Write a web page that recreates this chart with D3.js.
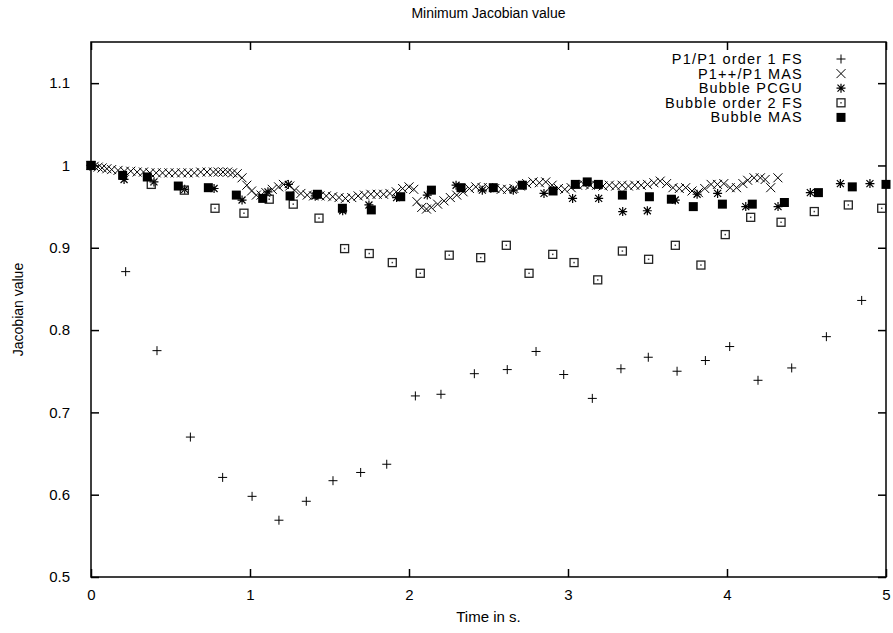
<!DOCTYPE html>
<html>
<head>
<meta charset="utf-8">
<script src="https://cdn.jsdelivr.net/npm/d3@7"></script>
<style>
body { margin: 0; background: #fff; }
text { font-family: "Liberation Sans", Arial, sans-serif; fill: #000; }
</style>
</head>
<body>
<div id="chart"></div>
<script>
// Daten

var xTicks = [0, 1, 2, 3, 4, 5];
var yTicks = [0.5, 0.6, 0.7, 0.8, 0.9, 1.0, 1.1];
var names = ["P1/P1 order 1 FS", "P1++/P1 MAS", "Bubble PCGU", "Bubble order 2 FS", "Bubble MAS"];

var p1fs = [[0,1.0],[0.218,0.871],[0.415,0.775],[0.625,0.670],[0.828,0.621],[1.013,0.598],[1.182,0.569],
    [1.354,0.592],[1.522,0.617],[1.696,0.627],[1.86,0.637],[2.04,0.720],[2.201,0.722],[2.411,0.747],
    [2.618,0.752],[2.799,0.774],[2.973,0.746],[3.153,0.717],[3.333,0.753],[3.505,0.767],[3.686,0.750],
    [3.864,0.763],[4.017,0.780],[4.195,0.739],[4.407,0.754],[4.625,0.792],[4.847,0.836]];

var p1mas = [[0,1.0],[0.02,0.999],[0.045,0.998],[0.07,0.997],[0.10,0.996],[0.13,0.995],[0.17,0.994],
    [0.21,0.993],[0.25,0.993],[0.29,0.992],[0.33,0.992],[0.37,0.991],[0.41,0.991],[0.45,0.991],[0.49,0.991],
    [0.53,0.991],[0.57,0.991],[0.61,0.991],[0.65,0.991],[0.69,0.992],[0.73,0.992],[0.77,0.992],[0.80,0.992],
    [0.83,0.992],[0.86,0.992],[0.89,0.991],[0.92,0.990],[0.95,0.985],[0.98,0.976],[1.01,0.969],[1.04,0.964],
    [1.07,0.964],[1.10,0.967],[1.14,0.971],[1.18,0.974],[1.21,0.977],[1.25,0.975],[1.28,0.970],[1.32,0.966],
    [1.36,0.964],[1.40,0.963],[1.44,0.963],[1.48,0.963],[1.52,0.962],[1.56,0.961],[1.60,0.960],[1.64,0.961],
    [1.68,0.963],[1.72,0.964],[1.76,0.965],[1.80,0.965],[1.84,0.965],[1.88,0.966],[1.92,0.968],[1.96,0.972],
    [2.00,0.974],[2.03,0.971],[2.05,0.956],[2.08,0.949],[2.11,0.947],[2.14,0.949],[2.18,0.953],[2.22,0.957],
    [2.26,0.961],[2.30,0.964],[2.34,0.968],[2.38,0.972],[2.42,0.974],[2.46,0.973],[2.50,0.973],[2.54,0.972],
    [2.58,0.971],[2.62,0.971],[2.66,0.972],[2.70,0.975],[2.74,0.978],[2.78,0.980],[2.82,0.979],[2.86,0.980],
    [2.90,0.976],[2.94,0.972],[2.98,0.971],[3.02,0.973],[3.06,0.976],[3.10,0.977],[3.14,0.976],[3.18,0.976],
    [3.22,0.975],[3.26,0.976],[3.30,0.975],[3.34,0.976],[3.38,0.975],[3.42,0.976],[3.46,0.976],[3.50,0.977],
    [3.54,0.979],[3.58,0.981],[3.62,0.978],[3.66,0.973],[3.70,0.972],[3.74,0.973],[3.78,0.969],[3.82,0.967],
    [3.86,0.972],[3.90,0.977],[3.94,0.977],[3.98,0.978],[4.02,0.973],[4.06,0.973],[4.10,0.978],[4.13,0.982],
    [4.17,0.985],[4.21,0.985],[4.24,0.983],[4.275,0.973],[4.32,0.985]];

var pcgu = [[0,1.0],[0.208,0.983],[0.396,0.980],[0.589,0.971],[0.774,0.972],[0.950,0.958],[1.113,0.968],
    [1.241,0.977],[1.41,0.963],[1.583,0.945],[1.748,0.952],[1.922,0.961],[2.115,0.964],[2.296,0.976],
    [2.461,0.970],[2.656,0.970],[2.849,0.966],[3.029,0.960],[3.193,0.960],[3.344,0.944],[3.499,0.945],
    [3.675,0.958],[3.812,0.965],[3.941,0.966],[4.118,0.950],[4.321,0.950],[4.524,0.967],[4.713,0.978],
    [4.899,0.978]];

var bubbleFs = [[0,1.0],[0.379,0.977],[0.587,0.970],[0.780,0.948],[0.962,0.942],[1.121,0.959],[1.272,0.953],
    [1.434,0.936],[1.595,0.899],[1.750,0.893],[1.895,0.882],[2.071,0.869],[2.253,0.891],[2.451,0.888],
    [2.612,0.903],[2.755,0.869],[2.904,0.892],[3.038,0.882],[3.187,0.861],[3.342,0.896],[3.507,0.886],
    [3.675,0.903],[3.836,0.879],[3.989,0.916],[4.149,0.937],[4.340,0.931],[4.549,0.944],[4.763,0.952],
    [4.973,0.948]];

var bubbleMas = [[0,1.0],[0.199,0.988],[0.354,0.986],[0.549,0.975],[0.738,0.973],[0.914,0.964],[1.080,0.960],
    [1.252,0.963],[1.424,0.965],[1.581,0.948],[1.763,0.946],[1.948,0.962],[2.141,0.970],[2.327,0.973],
    [2.530,0.973],[2.713,0.976],[2.906,0.969],[3.046,0.977],[3.121,0.980],[3.191,0.977],[3.342,0.964],
    [3.512,0.962],[3.650,0.959],[3.788,0.950],[3.971,0.953],[4.159,0.953],[4.361,0.955],[4.575,0.967],
    [4.788,0.974],[5.0,0.977]];

var series = [p1fs, p1mas, pcgu, bubbleFs, bubbleMas];

// Flaeche

var margin = {top: 42, right: 7, bottom: 56, left: 91};
var width = 893;
var height = 633;
var w = width - margin.left - margin.right;
var h = height - margin.top - margin.bottom;

var x = d3.scaleLinear().domain([0, 5]).range([0, w]);
var y = d3.scaleLinear().domain([0.5, 1.15]).range([h, 0]);

var svg = d3.select("#chart").append("svg")
    .attr("width", width)
    .attr("height", height);

var g = svg.append("g")
    .attr("transform", "translate(" + margin.left + "," + margin.top + ")");

var yFmt = function(d) { return String(+d.toFixed(1)); };

function styleAxis(sel) {
    sel.select(".domain").remove();
    sel.selectAll("line").attr("stroke", "#000").attr("stroke-width", 1.5);
    sel.selectAll("text").style("font-size", "15px").attr("fill", "#000");
}

g.append("g") // X - Achse
    .attr("transform", "translate(0," + h + ")")
    .call(d3.axisBottom(x).tickValues(xTicks).tickSize(-8).tickPadding(12).tickFormat(d3.format("d")))
    .call(styleAxis);

g.append("g") // oben
    .call(d3.axisTop(x).tickValues(xTicks).tickSize(-8).tickFormat(""))
    .call(styleAxis);

g.append("g") // Y - Achse
    .call(d3.axisLeft(y).tickValues(yTicks).tickSize(-8).tickPadding(21).tickFormat(yFmt))
    .call(styleAxis);

g.append("g") // rechts
    .attr("transform", "translate(" + w + ",0)")
    .call(d3.axisRight(y).tickValues(yTicks).tickSize(-8).tickFormat(""))
    .call(styleAxis);

g.append("rect") // Rahmen
    .attr("width", w)
    .attr("height", h)
    .attr("fill", "none")
    .attr("stroke", "#000")
    .attr("stroke-width", 1.5);

// Symbole

function mark(sel, type) {
    var s = 4.5;
    if (type == 0) {
        sel.append("path").attr("d", "M" + -s + ",0H" + s + "M0," + -s + "V" + s)
            .attr("stroke", "#000").attr("fill", "none");
    } else if (type == 1) {
        sel.append("path").attr("d", "M" + -s + "," + -s + "L" + s + "," + s + "M" + -s + "," + s + "L" + s + "," + -s)
            .attr("stroke", "#000").attr("fill", "none");
    } else if (type == 2) {
        var a = 3.5;
        sel.append("path").attr("d", "M" + -s + ",0H" + s + "M0," + -s + "V" + s +
                "M" + -a + "," + -a + "L" + a + "," + a + "M" + -a + "," + a + "L" + a + "," + -a)
            .attr("stroke", "#000").attr("stroke-width", 1.2).attr("fill", "none");
    } else if (type == 3) {
        sel.append("rect").attr("x", -4).attr("y", -4).attr("width", 8).attr("height", 8)
            .attr("fill", "none").attr("stroke", "#222").attr("stroke-width", 1.3);
        sel.append("rect").attr("x", -0.75).attr("y", -0.75).attr("width", 1.5).attr("height", 1.5)
            .attr("fill", "#444");
    } else {
        sel.append("rect").attr("x", -4.5).attr("y", -4.5).attr("width", 9).attr("height", 9)
            .attr("fill", "#000");
    }
}

series.forEach(function(data, i) {
    g.append("g").selectAll("g")
        .data(data)
        .enter().append("g")
        .attr("transform", function(d) { return "translate(" + x(d[0]) + "," + y(d[1]) + ")"; })
        .each(function() { mark(d3.select(this), i); });
});

// Legende

var legend = svg.append("g")
    .attr("transform", "translate(803,59)");

names.forEach(function(n, i) {
    legend.append("text")
        .attr("x", 0)
        .attr("y", i * 14.6)
        .attr("dy", "0.35em")
        .attr("text-anchor", "end")
        .style("font-size", "14.5px")
        .style("letter-spacing", "1.2px")
        .text(n);
    legend.append("g")
        .attr("transform", "translate(38," + (i * 14.6) + ")")
        .call(mark, i);
});

// Beschriftung

svg.append("text")
    .attr("x", margin.left + w / 2)
    .attr("y", 18)
    .attr("text-anchor", "middle")
    .style("font-size", "14px")
    .text("Minimum Jacobian value");

svg.append("text")
    .attr("x", margin.left + w / 2)
    .attr("y", 622)
    .attr("text-anchor", "middle")
    .style("font-size", "15px")
    .text("Time in s.");

svg.append("text")
    .attr("transform", "translate(23," + (margin.top + h / 2) + ") rotate(-90)")
    .attr("text-anchor", "middle")
    .style("font-size", "14px")
    .text("Jacobian value");
</script>
</body>
</html>
